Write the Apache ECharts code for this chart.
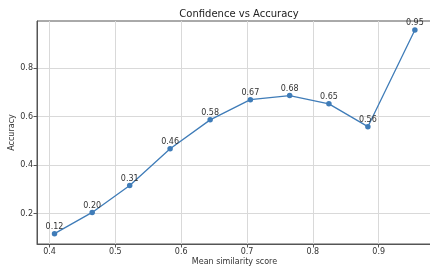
<!DOCTYPE html>
<html><head><meta charset="utf-8">
<script src="https://cdn.jsdelivr.net/npm/echarts@6/dist/echarts.min.js"></script>
<style>html,body{margin:0;padding:0;background:#fff}#c{width:430px;height:266px}</style>
</head><body><div id="c"></div>
<script>
const xValues = [0.4076, 0.4648, 0.5218, 0.5832, 0.6440, 0.7051, 0.7648, 0.8244, 0.8836, 0.9550];
const accuracy = [0.1175, 0.2050, 0.3160, 0.4670, 0.5860, 0.6690, 0.6860, 0.6520, 0.5580, 0.9560];
const pointLabels = ["0.12","0.20","0.31","0.46","0.58","0.67","0.68","0.65","0.56","0.95"];
const xTicks = [0.4, 0.5, 0.6, 0.7, 0.8, 0.9];
const yTicks = [0.2, 0.4, 0.6, 0.8];

const chart = echarts.init(document.getElementById('c'), null, {renderer:'canvas'});
const font = 'DejaVu Sans';
chart.setOption({
  animation: false,
  title: { text: 'Confidence vs Accuracy', left: 234, top: 4, textAlign: 'center',
    textStyle: { fontFamily: font, fontSize: 10, fontWeight: 'normal', color: '#222' } },
  grid: { left: 37, right: -2, top: 21, bottom: 22, outerBoundsMode: 'none', containLabel: false,
    show: true, borderColor: '#555', borderWidth: 1, backgroundColor: 'transparent' },
  xAxis: {
    type: 'value', min: 0.381, max: 0.981,
    name: 'Mean similarity score', nameLocation: 'middle', nameGap: 14, nameMoveOverlap: false,
    nameTextStyle: { fontFamily: font, fontSize: 8, color: '#333' },
    axisLine: { show: true, lineStyle: { color: '#555', width: 1 } },
    axisTick: { show: true, customValues: xTicks, length: 3.5, lineStyle: { color: '#555' } },
    axisLabel: { customValues: xTicks, fontFamily: font, fontSize: 8, color: '#333', margin: 4,
      formatter: v => v.toFixed(1) },
    splitLine: { show: true, lineStyle: { color: '#d9d9d9', width: 1 } }
  },
  yAxis: {
    type: 'value', min: 0.075, max: 0.993,
    name: 'Accuracy', nameLocation: 'middle', nameGap: 21, nameRotate: 90, nameMoveOverlap: false,
    nameTextStyle: { fontFamily: font, fontSize: 8, color: '#333' },
    axisLine: { show: true, lineStyle: { color: '#555', width: 1 } },
    axisTick: { show: true, customValues: yTicks, length: 3.5, lineStyle: { color: '#555' } },
    axisLabel: { customValues: yTicks, fontFamily: font, fontSize: 8, color: '#333', margin: 4,
      formatter: v => v.toFixed(1) },
    splitLine: { show: true, lineStyle: { color: '#d9d9d9', width: 1 } }
  },
  series: [{
    type: 'line',
    data: xValues.map((x, i) => [x, accuracy[i]]),
    symbol: 'circle', symbolSize: 5.5,
    lineStyle: { color: '#3f7cb8', width: 1.3 },
    itemStyle: { color: '#3f7cb8' },
    label: { show: true, position: 'top', distance: 0, fontFamily: font, fontSize: 8, color: '#333',
      formatter: p => pointLabels[p.dataIndex] }
  }]
});
</script></body></html>
